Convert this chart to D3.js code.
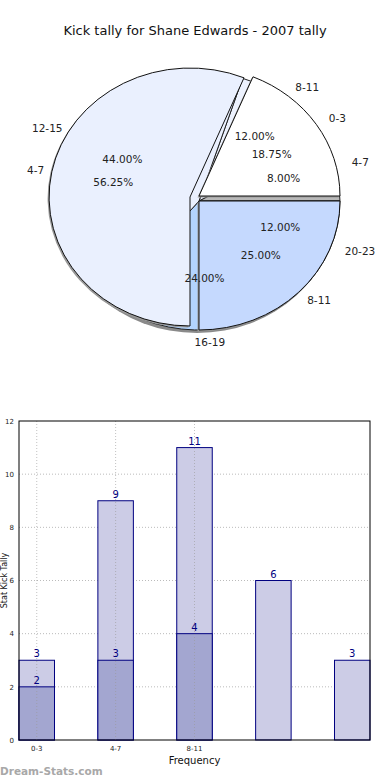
<!DOCTYPE html>
<meta charset="utf-8">

<head>
  <script src="https://d3js.org/d3.v7.min.js"></script>
  <style>
    body { margin: 0; background: #fff; }
    text { font-family: "DejaVu Sans", sans-serif; }
  </style>
</head>

<body>
  <svg id="root"></svg>

  <script>
    // pie data: back pie (total 25) and front pie (total 32)
    const backCats = ["8-11", "4-7", "20-23", "16-19", "12-15"];
    const backVals = [3, 2, 3, 6, 11];
    const frontCats = ["0-3", "8-11", "4-7"];
    const frontVals = [6, 8, 18];

    // bar data
    const barCats = ["0-3", "4-7", "8-11", "", ""];
    const lightVals = [3, 9, 11, 6, 3];
    const darkVals = [2, 3, 4];
    const yTicks = [0, 2, 4, 6, 8, 10, 12];

    const W = 390, H = 780;
    const svg = d3.select("#root").attr("width", W).attr("height", H);

    svg.append("text")
      .attr("x", 195).attr("y", 35)
      .attr("text-anchor", "middle")
      .attr("font-size", 13)
      .attr("fill", "#111")
      .text("Kick tally for Shane Edwards - 2007 tally");

    // ---- pie ----
    const cx = 199, cy = 199, rx = 141, ry = 129;
    const deg = Math.PI / 180;
    const unitArc = d3.arc().innerRadius(0).outerRadius(1);

    const backPie = d3.pie().sort(null).startAngle(18 * deg).endAngle(378 * deg)(backVals);
    const frontPie = d3.pie().sort(null).startAngle(22.5 * deg).endAngle(382.5 * deg)(frontVals);

    const backColors = ["#edf2fe", "#b8b8b8", "#a9b08e", "#b3d4fe", "#eaf0fe"];
    const frontColors = ["#ffffff", "#c5d9fe", "#eaf0fe"];
    const frontOffset = [[0, -3], [0, 2], [-9, -2]];

    const pieG = svg.append("g");

    // shadow
    pieG.append("ellipse")
      .attr("cx", cx - 2).attr("cy", cy + 5)
      .attr("rx", rx).attr("ry", ry)
      .attr("fill", "#8a8a8a");

    pieG.selectAll(".back")
      .data(backPie)
      .join("path")
      .attr("class", "back")
      .attr("transform", `translate(${cx},${cy + 2}) scale(${rx},${ry})`)
      .attr("d", unitArc)
      .attr("fill", (d, i) => backColors[i])
      .attr("stroke", "#222")
      .attr("stroke-width", 1)
      .attr("vector-effect", "non-scaling-stroke");

    // front slice shadows
    pieG.selectAll(".fshadow")
      .data(frontPie)
      .join("path")
      .attr("class", "fshadow")
      .attr("transform", (d, i) => `translate(${cx + frontOffset[i][0] - 1.5},${cy + frontOffset[i][1] + 1.5}) scale(${rx},${ry})`)
      .attr("d", unitArc)
      .attr("fill", "#999");

    pieG.selectAll(".front")
      .data(frontPie)
      .join("path")
      .attr("class", "front")
      .attr("transform", (d, i) => `translate(${cx + frontOffset[i][0]},${cy + frontOffset[i][1]}) scale(${rx},${ry})`)
      .attr("d", unitArc)
      .attr("fill", (d, i) => frontColors[i])
      .attr("stroke", "#111")
      .attr("stroke-width", 1)
      .attr("vector-effect", "non-scaling-stroke");

    function midAngle(d) { return (d.startAngle + d.endAngle) / 2; }

    function pieLabels(arcs, cats, total) {
      arcs.forEach((d, i) => {
        const a = midAngle(d);
        // outer label: pushed outside the ellipse by half its width
        const t = pieG.append("text")
          .attr("text-anchor", "middle")
          .attr("font-size", 10.5)
          .attr("fill", "#222")
          .text(cats[i]);
        const w = t.node().getComputedTextLength();
        t.attr("x", cx + 1.12 * rx * Math.sin(a) + Math.sin(a) * w / 2)
          .attr("y", cy - 1 - 1.12 * ry * Math.cos(a) + 4);

        pieG.append("text")
          .attr("x", cx + 0.62 * rx * Math.sin(a))
          .attr("y", cy - 1 - 0.62 * ry * Math.cos(a) + 4)
          .attr("text-anchor", "middle")
          .attr("font-size", 10.5)
          .attr("fill", "#222")
          .text((d.data / total * 100).toFixed(2) + "%");
      });
    }
    pieLabels(backPie, backCats, d3.sum(backVals));
    pieLabels(frontPie, frontCats, d3.sum(frontVals));

    // ---- bars ----
    const pLeft = 19, pRight = 370, pTop = 421, pBottom = 740;
    const xScale = d3.scaleLinear([0, 4.45], [pLeft, pRight]);
    const yScale = d3.scaleLinear([0, 12], [pBottom, pTop]);
    const bw = xScale(0.45) - xScale(0);

    const barG = svg.append("g");

    // grid
    barG.selectAll(".hgrid")
      .data(yTicks.slice(1, -1))
      .join("line")
      .attr("x1", pLeft).attr("x2", pRight)
      .attr("y1", d => yScale(d)).attr("y2", d => yScale(d))
      .attr("stroke", "#bbb")
      .attr("stroke-dasharray", "1,2");

    barG.selectAll(".light")
      .data(lightVals)
      .join("rect")
      .attr("x", (d, i) => xScale(i))
      .attr("y", d => yScale(d))
      .attr("width", bw)
      .attr("height", d => pBottom - yScale(d))
      .attr("fill", "#ccccE6")
      .attr("stroke", "#000080");

    barG.selectAll(".dark")
      .data(darkVals)
      .join("rect")
      .attr("x", (d, i) => xScale(i))
      .attr("y", d => yScale(d))
      .attr("width", bw)
      .attr("height", d => pBottom - yScale(d))
      .attr("fill", "#a3a6d0")
      .attr("stroke", "#000080");

    // vertical grid shows through the bars
    barG.selectAll(".vgrid")
      .data(barCats.filter(c => c !== ""))
      .join("line")
      .attr("x1", (d, i) => xScale(i) + bw / 2).attr("x2", (d, i) => xScale(i) + bw / 2)
      .attr("y1", pTop).attr("y2", pBottom)
      .attr("stroke", "#999")
      .attr("stroke-opacity", 0.6)
      .attr("stroke-dasharray", "1,2");

    function valueLabels(vals) {
      barG.selectAll(null)
        .data(vals)
        .join("text")
        .attr("x", (d, i) => xScale(i) + bw / 2)
        .attr("y", d => yScale(d) - 3)
        .attr("text-anchor", "middle")
        .attr("font-size", 10)
        .attr("fill", "#000080")
        .text(d => d);
    }
    valueLabels(lightVals);
    valueLabels(darkVals);

    // frame
    barG.append("rect")
      .attr("x", pLeft).attr("y", pTop)
      .attr("width", pRight - pLeft).attr("height", pBottom - pTop)
      .attr("fill", "none")
      .attr("stroke", "#000");

    const yAxis = d3.axisLeft(yScale).tickValues(yTicks).tickSize(0).tickPadding(5);
    barG.append("g")
      .attr("transform", `translate(${pLeft},0)`)
      .call(yAxis)
      .call(g => g.select(".domain").remove())
      .call(g => g.selectAll("text").attr("font-size", 7).attr("fill", "#222").attr("font-family", "DejaVu Sans"));

    barG.selectAll(".xt")
      .data(barCats)
      .join("text")
      .attr("x", (d, i) => xScale(i) + bw / 2)
      .attr("y", 751)
      .attr("text-anchor", "middle")
      .attr("font-size", 7)
      .attr("fill", "#222")
      .text(d => d);

    svg.append("text")
      .attr("x", (pLeft + pRight) / 2).attr("y", 764)
      .attr("text-anchor", "middle")
      .attr("font-size", 10)
      .attr("fill", "#111")
      .text("Frequency");

    svg.append("text")
      .attr("transform", `translate(7,${(pTop + pBottom) / 2}) rotate(-90)`)
      .attr("text-anchor", "middle")
      .attr("font-size", 8)
      .attr("fill", "#111")
      .text("Stat Kick Tally");

    svg.append("text")
      .attr("x", 0).attr("y", 775)
      .attr("font-size", 10.5)
      .attr("font-weight", "bold")
      .attr("fill", "#a8a8a8")
      .text("Dream-Stats.com");
  </script>
</body>
